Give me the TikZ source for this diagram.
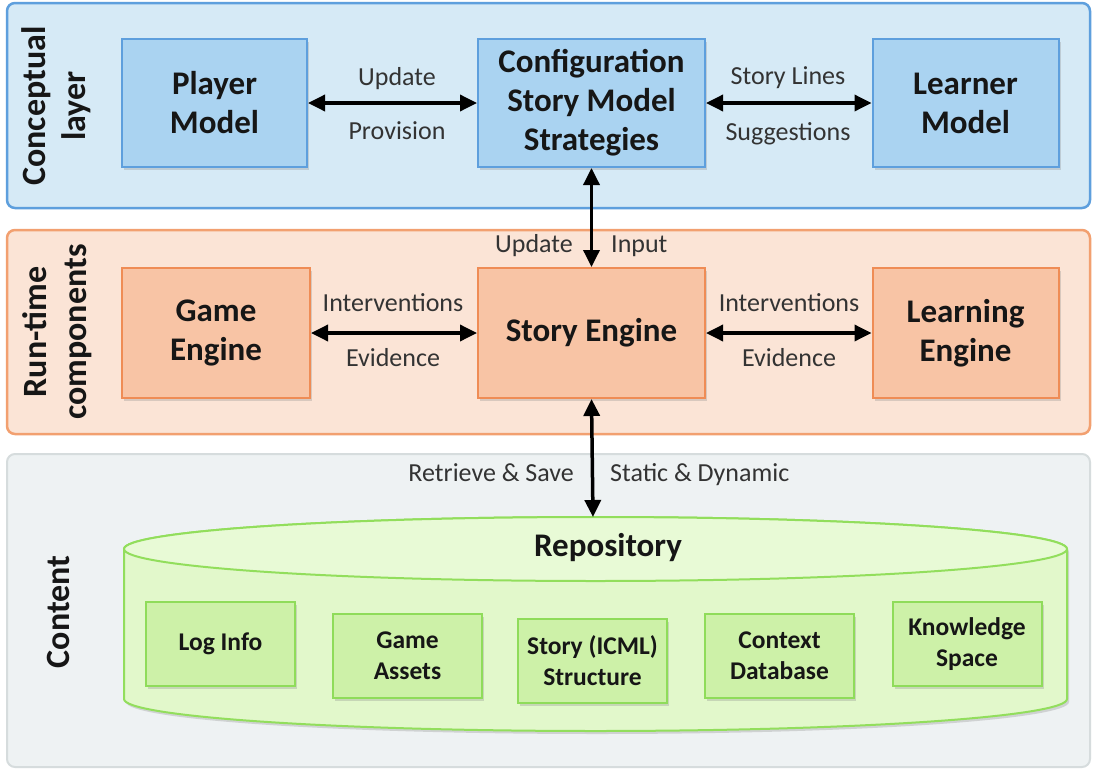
\documentclass[tikz,border=0pt]{standalone}
\usepackage{fontspec}
\setmainfont{Carlito}
\usetikzlibrary{arrows.meta,shadows,calc}
\definecolor{lonefill}{HTML}{D6EAF6}
\definecolor{loneline}{HTML}{5E9FDD}
\definecolor{bonefill}{HTML}{AAD3F1}
\definecolor{boneline}{HTML}{5E9FDD}
\definecolor{ltwofill}{HTML}{FBE4D6}
\definecolor{ltwoline}{HTML}{F2A070}
\definecolor{btwofill}{HTML}{F8C4A5}
\definecolor{btwoline}{HTML}{EF8C55}
\definecolor{lthrfill}{HTML}{EEF2F3}
\definecolor{lthrline}{HTML}{D6DCDD}
\definecolor{cylfill}{HTML}{E2F8CB}
\definecolor{cyltop}{HTML}{E8FAD6}
\definecolor{cylline}{HTML}{92DE5C}
\definecolor{ibfill}{HTML}{CDF1A8}
\definecolor{ibline}{HTML}{8FDC5A}
\definecolor{txt}{HTML}{161616}
\definecolor{lbl}{HTML}{333333}
\begin{document}
\begin{tikzpicture}[x=1pt,y=-1pt,
  layer/.style={rounded corners=8pt, line width=2.5pt},
  shad/.style={drop shadow={opacity=0.28,shadow xshift=2pt,shadow yshift=-3pt}},
  box/.style={draw, line width=2pt, align=center, inner sep=0pt,
    font=\fontsize{33}{39}\selectfont\bfseries, text=txt, shad},
  topbox/.style={box, fill=bonefill, draw=boneline, minimum height=128pt},
  midbox/.style={box, fill=btwofill, draw=btwoline, minimum height=130pt},
  inbox/.style={box, fill=ibfill, draw=ibline, minimum width=149pt, minimum height=84pt,
    font=\fontsize{25.5}{31}\selectfont\bfseries},
  lyrlabel/.style={rotate=90, align=center, font=\fontsize{34}{40}\selectfont\bfseries, text=txt},
  lab/.style={font=\fontsize{26}{30}\selectfont, text=lbl, inner sep=0pt},
  conn/.style={{Triangle[length=17pt,width=16pt]}-{Triangle[length=17pt,width=16pt]}, line width=3.5pt, black}
]
\useasboundingbox (0,0) rectangle (1096,774);
\fill[white] (0,0) rectangle (1096,774);

% layers
\filldraw[layer, fill=lonefill, draw=loneline] (7,3) rectangle (1090,208);
\filldraw[layer, fill=ltwofill, draw=ltwoline] (7,230) rectangle (1090,434);
\filldraw[layer, fill=lthrfill, draw=lthrline, line width=2pt] (7,454) rectangle (1090,767);

% layer labels
\node[lyrlabel] (lconc) at (56,106) {Conceptual\\layer};
\node[lyrlabel] (lrun) at (57,332) {Run-time\\components};
\node[lyrlabel] (lcont) at (58,612) {Content};

% top boxes
\node[topbox, minimum width=185pt] (player) at (214.5,103) {Player\\Model};
\node[topbox, minimum width=227pt] (config) at (591.5,103) {Configuration\\Story Model\\Strategies};
\node[topbox, minimum width=186pt] (learner) at (965.5,103) {Learner\\Model};

% middle boxes
\node[midbox, minimum width=188pt] (game) at (216,333) {Game\\Engine};
\node[midbox, minimum width=227pt] (story) at (591.5,333) {Story Engine};
\node[midbox, minimum width=186pt] (learning) at (965.5,333) {Learning\\Engine};

% cylinder
\path[fill=cylfill, draw=cylline, line width=2pt, shad]
  (124pt,-549pt) -- (124pt,-699pt)
  arc[start angle=180, end angle=360, x radius=471.5pt, y radius=32pt]
  -- (1067pt,-549pt)
  arc[start angle=0, end angle=180, x radius=471.5pt, y radius=32pt] -- cycle;
\draw[fill=cyltop, draw=cylline, line width=2pt] (595.5pt,-549pt) ellipse[x radius=471.5pt, y radius=32pt];
\node[font=\fontsize{33}{39}\selectfont\bfseries, text=txt] (repo) at (608,548) {Repository};
\coordinate (repotop) at (593,517);

% inner boxes
\node[inbox] (log) at (220.5,643.5) {Log Info};
\node[inbox] (assets) at (407.5,656) {Game\\Assets};
\node[inbox] (icml) at (592.5,660.5) {Story (ICML)\\Structure};
\node[inbox] (context) at (779.5,656) {Context\\Database};
\node[inbox] (know) at (967,644) {Knowledge\\Space};

% connectors
\draw[conn] (player.east) -- (config.west);
\draw[conn] (config.east) -- (learner.west);
\draw[conn] (game.east) -- (story.west);
\draw[conn] (story.east) -- (learning.west);
\draw[conn] (config.south) -- (story.north);
\draw[conn] (story.south) -- (repotop);

% labels
\node[lab, anchor=base] (lupd) at (397,85) {Update};
\node[lab, anchor=base] (lprov) at (397,139) {Provision};
\node[lab, anchor=base] (lsl) at (788,84) {Story Lines};
\node[lab, anchor=base] (lsug) at (788,140) {Suggestions};
\node[lab, anchor=base east] (lupd2) at (573,252) {Update};
\node[lab, anchor=base west] (linp) at (611,252) {Input};
\node[lab, anchor=base] (lint1) at (393,311) {Interventions};
\node[lab, anchor=base] (lev1) at (393,366) {Evidence};
\node[lab, anchor=base] (lint2) at (789,311) {Interventions};
\node[lab, anchor=base] (lev2) at (789,366) {Evidence};
\node[lab, anchor=base east] (lret) at (574,481) {Retrieve \& Save};
\node[lab, anchor=base west] (lsd) at (610,481) {Static \& Dynamic};
\end{tikzpicture}
\end{document}
